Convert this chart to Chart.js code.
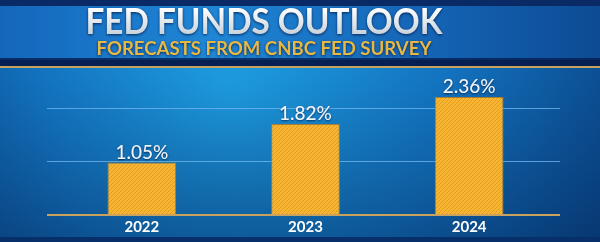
<!DOCTYPE html>
<html lang="en">

<head>
  <meta charset="UTF-8">
  <title>Fed Funds Outlook</title>
  <script src="https://cdn.jsdelivr.net/npm/chart.js@4.4.0/dist/chart.umd.min.js"></script>
  <style>
    html, body {
      margin: 0;
      padding: 0;
      background: #0a3f80;
    }
    .plot-container {
      width: 600px;
      height: 242px;
      position: relative;
    }
  </style>
</head>

<body>
  <div class="plot-container">
    <canvas id="plot"></canvas>
  </div>

  <script>
    const title = 'FED FUNDS OUTLOOK';
    const subtitle = 'FORECASTS FROM CNBC FED SURVEY';
    const years = ['2022', '2023', '2024'];
    const rates = [1.05, 1.82, 2.36];
    const gridTicks = [0, 1.065, 2.13];

    // hatched gold fill for the bars
    function hatch() {
      const c = document.createElement('canvas');
      c.width = 4; c.height = 4;
      const g = c.getContext('2d');
      g.fillStyle = '#f8b532';
      g.fillRect(0, 0, 4, 4);
      g.strokeStyle = 'rgba(200,130,20,0.5)';
      g.lineWidth = 1;
      g.beginPath();
      g.moveTo(0, 4); g.lineTo(4, 0);
      g.moveTo(-1, 1); g.lineTo(1, -1);
      g.moveTo(3, 5); g.lineTo(5, 3);
      g.stroke();
      return g.createPattern(c, 'repeat');
    }

    const backdrop = {
      id: 'backdrop',
      beforeDraw(chart) {
        const ctx = chart.ctx;
        const w = chart.width, h = chart.height;
        ctx.save();
        // main blue area
        let rg = ctx.createRadialGradient(230, 90, 10, 260, 110, 430);
        rg.addColorStop(0, '#1d9ce0');
        rg.addColorStop(0.45, '#1375c2');
        rg.addColorStop(1, '#083b7c');
        ctx.fillStyle = rg;
        ctx.fillRect(0, 0, w, h);
        let lg = ctx.createLinearGradient(0, 68, 0, 240);
        lg.addColorStop(0, 'rgba(0,20,60,0)');
        lg.addColorStop(1, 'rgba(0,20,60,0.35)');
        ctx.fillStyle = lg;
        ctx.fillRect(0, 68, w, h - 68);
        // bottom band
        ctx.fillStyle = '#07306a';
        ctx.fillRect(0, 237, w, h - 237);
        // title band
        ctx.fillStyle = '#0a2a66';
        ctx.fillRect(0, 0, w, 68);
        let tg = ctx.createLinearGradient(0, 0, w, 0);
        tg.addColorStop(0, '#1466bb');
        tg.addColorStop(0.35, '#1f86d6');
        tg.addColorStop(0.7, '#1565b6');
        tg.addColorStop(1, '#0d4b94');
        ctx.fillStyle = tg;
        ctx.fillRect(0, 6, w, 54);
        ctx.fillStyle = 'rgba(5,30,80,0.8)';
        ctx.fillRect(0, 58, w, 8);
        ctx.fillStyle = '#c9a25e';
        ctx.fillRect(0, 66, w, 2);
        // texts
        ctx.textAlign = 'center';
        ctx.textBaseline = 'alphabetic';
        ctx.shadowColor = 'rgba(0,20,60,0.8)';
        ctx.shadowBlur = 3;
        ctx.shadowOffsetY = 1;
        ctx.font = 'bold 36px Lato';
        const sx = 357 / ctx.measureText(title).width;
        ctx.save();
        ctx.translate(264, 34);
        ctx.scale(sx, 1);
        let fg = ctx.createLinearGradient(0, -26, 0, 0);
        fg.addColorStop(0, '#ffffff');
        fg.addColorStop(1, '#c9d3dc');
        ctx.fillStyle = fg;
        ctx.fillText(title, 0, 0);
        ctx.restore();
        ctx.font = 'bold 19px Lato';
        const sx2 = 335 / ctx.measureText(subtitle).width;
        ctx.save();
        ctx.translate(264, 55);
        ctx.scale(sx2, 1);
        ctx.fillStyle = '#e8b845';
        ctx.fillText(subtitle, 0, 0);
        ctx.restore();
        ctx.restore();
      }
    };

    const valueLabels = {
      id: 'valueLabels',
      afterDatasetsDraw(chart) {
        const ctx = chart.ctx;
        const meta = chart.getDatasetMeta(0);
        ctx.save();
        ctx.font = '500 19px Lato';
        ctx.fillStyle = '#eef4fa';
        ctx.textAlign = 'center';
        ctx.textBaseline = 'alphabetic';
        ctx.shadowColor = 'rgba(0,20,60,0.7)';
        ctx.shadowBlur = 2;
        ctx.shadowOffsetY = 1;
        meta.data.forEach((bar, i) => {
          ctx.fillText(rates[i].toFixed(2) + '%', bar.x, bar.y - 4);
        });
        ctx.restore();
      }
    };

    const gridColor = (c) => c.tick && c.tick.value === 0 ? '#c9a25e' : 'rgba(110,180,235,0.8)';
    const gridWidth = (c) => c.tick && c.tick.value === 0 ? 2 : 1;

    const yScale = (pos, onArea, len) => ({
      position: pos,
      min: 0,
      max: 2.8,
      afterBuildTicks: (s) => { s.ticks = gridTicks.map(v => ({ value: v })); },
      border: { display: false },
      ticks: { display: false },
      grid: {
        drawOnChartArea: onArea,
        drawTicks: true,
        tickLength: len,
        color: gridColor,
        lineWidth: gridWidth
      }
    });

    const plot = new Chart(document.getElementById('plot'), {
      type: 'bar',
      data: {
        labels: years,
        datasets: [{
          data: rates,
          backgroundColor: hatch(),
          borderColor: '#a57d33',
          borderWidth: 1,
          categoryPercentage: 1,
          barPercentage: 0.42
        }]
      },
      options: {
        responsive: true,
        maintainAspectRatio: false,
        animation: false,
        layout: { padding: { left: 47, right: 40, top: 75, bottom: 3 } },
        plugins: {
          legend: { display: false },
          tooltip: { enabled: false }
        },
        scales: {
          x: {
            border: { display: false },
            grid: { display: false, drawTicks: false },
            ticks: {
              color: '#ffffff',
              padding: 3,
              font: { family: 'Lato', weight: 'bold', size: 15 }
            }
          },
          y: yScale('left', true, 13),
          y2: yScale('right', false, 9)
        }
      },
      plugins: [backdrop, valueLabels]
    });
  </script>
</body>

</html>
